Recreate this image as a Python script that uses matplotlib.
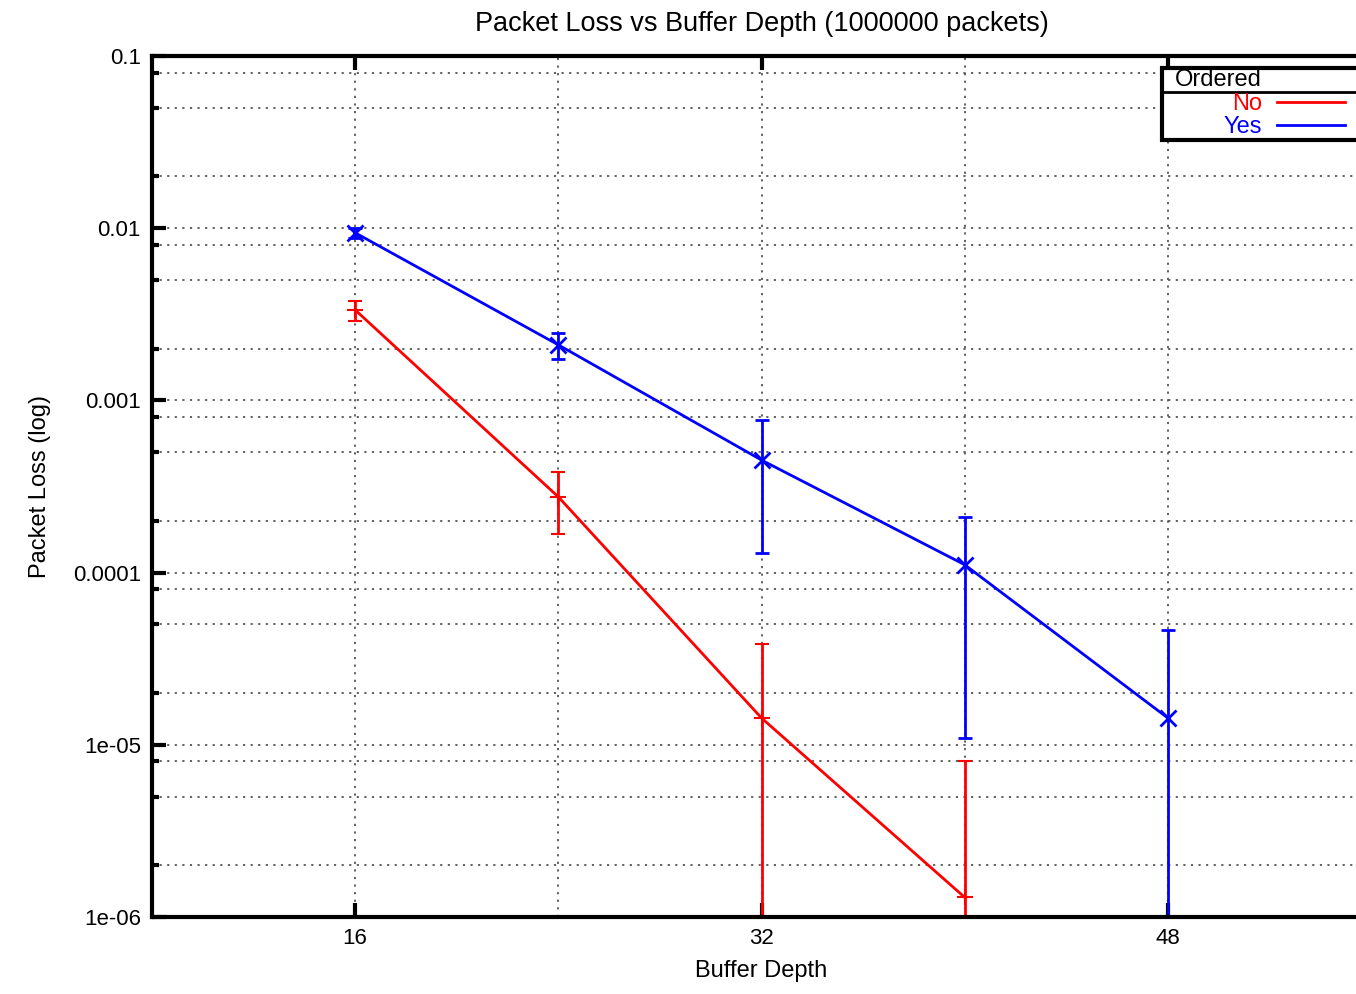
import numpy as np
import matplotlib
matplotlib.use("Agg")
import matplotlib.pyplot as plt
from matplotlib.ticker import FixedLocator, FuncFormatter
from matplotlib.lines import Line2D
from matplotlib.patches import Rectangle

plt.rcParams['font.family'] = ['Liberation Sans', 'DejaVu Sans']

# --- data ---
depth = [16, 24, 32, 40, 48]

loss_no = [3.35e-3, 2.75e-4, 1.43e-5, 1.3e-6]
err_no = [0.45e-3, 1.08e-4, 2.42e-5, 6.7e-6]

loss_yes = [9.4e-3, 2.1e-3, 4.5e-4, 1.11e-4, 1.43e-5]
err_yes = [0.6e-3, 0.36e-3, 3.2e-4, 1.0e-4, 3.2e-5]

RED = '#ff0000'
BLUE = '#0000ff'

fig = plt.figure(figsize=(13.56, 9.94), dpi=100)
ax = fig.add_axes([0.1121, 0.0775, 0.899, 0.8662])

def asym(vals, errs):
    # lower bars that go below zero run off the bottom of the log axis
    vals = np.array(vals)
    errs = np.array(errs)
    low = np.maximum(vals - errs, 1e-9)
    return [vals - low, errs]

ax.errorbar(depth[:len(loss_no)], loss_no, yerr=asym(loss_no, err_no), color=RED,
            lw=2, marker='+', ms=11, mew=1.5, capsize=5, capthick=2)
ax.errorbar(depth, loss_yes, yerr=asym(loss_yes, err_yes), color=BLUE,
            lw=2, marker='x', ms=11, mew=2, capsize=5, capthick=2)

ax.set_yscale('log')
ax.set_ylim(1e-6, 0.1)
ax.set_xlim(8, 56)

ax.xaxis.set_major_locator(FixedLocator([16, 32, 48]))
ax.xaxis.set_minor_locator(FixedLocator([24, 40]))
major_y = [1e-6, 1e-5, 1e-4, 1e-3, 1e-2, 1e-1]
minor_y = [m * 10.0 ** k for k in range(-6, -1) for m in (2, 5, 8)]
ax.yaxis.set_major_locator(FixedLocator(major_y))
ax.yaxis.set_minor_locator(FixedLocator(minor_y))
ax.yaxis.set_major_formatter(FuncFormatter(lambda v, p: '%g' % v))
ax.yaxis.set_minor_formatter(FuncFormatter(lambda v, p: ''))

ax.tick_params(which='major', direction='in', length=10, width=3, labelsize=16,
               top=True, right=True, pad=8)
ax.tick_params(which='minor', direction='in', length=5, width=3, top=False, right=True)
ax.tick_params(axis='x', which='minor', length=0)

ax.grid(True, which='both', color='#555555', linestyle=(0, (1.2, 3)), linewidth=1.3)
ax.set_axisbelow(True)

for sp in ax.spines.values():
    sp.set_linewidth(3)

ax.set_title('Packet Loss vs Buffer Depth (1000000 packets)', fontsize=19.5, pad=18)
ax.set_xlabel('Buffer Depth', fontsize=17, labelpad=8)
ax.set_ylabel('Packet Loss (log)', fontsize=17, labelpad=16)

# gnuplot style key box: title row, separator, right-aligned coloured labels
ax.add_patch(Rectangle((0.8286, 0.9024), 0.2, 0.0836, transform=ax.transAxes,
                       facecolor='white', edgecolor='black', lw=3, clip_on=False, zorder=5))
ax.plot([0.8286, 1.03], [0.958, 0.958], color='black', lw=2, transform=ax.transAxes,
        clip_on=False, zorder=6)
ax.text(0.8392, 0.972, 'Ordered', transform=ax.transAxes, fontsize=17,
        va='center', ha='left', zorder=7)
handles = [Line2D([], [], color=RED, lw=2), Line2D([], [], color=BLUE, lw=2)]
leg = ax.legend(handles, ['No', 'Yes'], loc='upper right', bbox_to_anchor=(0.9787, 0.957),
                frameon=False, markerfirst=False, labelcolor='linecolor', fontsize=17,
                handlelength=2.9, borderpad=0, labelspacing=0.05, handletextpad=0.6,
                borderaxespad=0)
leg.set_zorder(8)

fig.savefig('out.png', dpi=100)
